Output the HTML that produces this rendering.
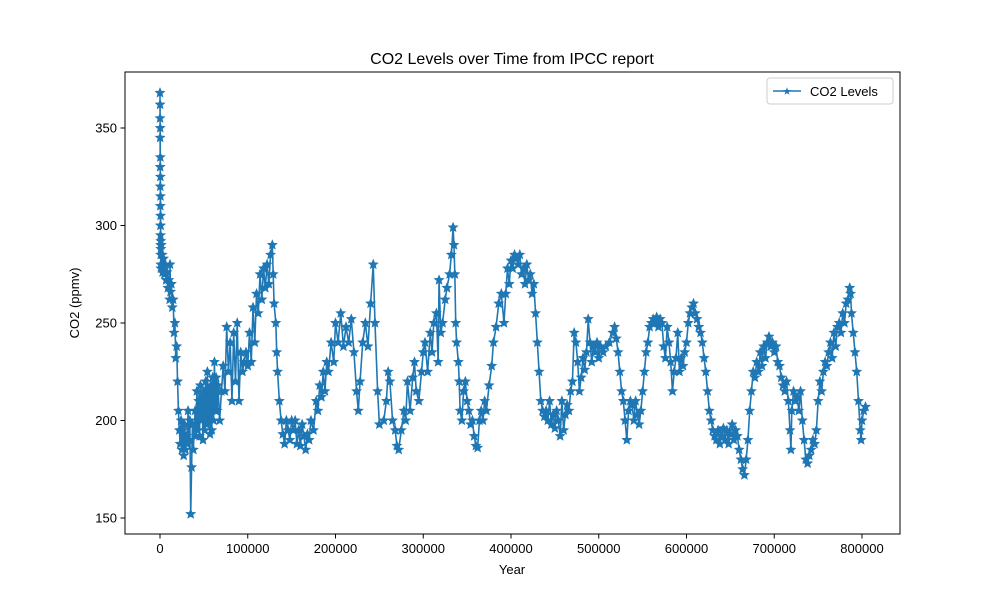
<!DOCTYPE html>
<html><head><meta charset="utf-8"><style>
html,body{margin:0;padding:0;background:#fff;}
svg{display:block;font-family:"Liberation Sans","DejaVu Sans",sans-serif;}
</style></head><body>
<svg id="chart" width="1000" height="600" viewBox="0 0 1000 600">
<rect x="0" y="0" width="1000" height="600" fill="#fff"/>
<text x="512" y="64" text-anchor="middle" font-size="16">CO2 Levels over Time from IPCC report</text>
<g id="plot"></g>
<rect x="125" y="72" width="775" height="462" fill="none" stroke="#000" stroke-width="1"/>
<g id="xticks"></g>
<g id="yticks"></g>
<text x="512" y="574" text-anchor="middle" font-size="13">Year</text>
<text transform="translate(79,303) rotate(-90)" text-anchor="middle" font-size="13">CO2 (ppmv)</text>
<g>
<rect x="767" y="78" width="126" height="26" rx="3" fill="#fff" stroke="#ccc"/>
<line x1="773" y1="91" x2="801" y2="91" stroke="#1f77b4" stroke-width="1.5"/>
<path d="M787,87.2 L788,90 L791,90.1 L788.6,91.9 L789.5,94.8 L787,93.1 L784.5,94.8 L785.4,91.9 L783,90.1 L786,90 Z" fill="#1f77b4"/>
<text x="810" y="96" font-size="13">CO2 Levels</text>
</g>
</svg>
<script>
const yearsKyr=[0,0.05,0.1,0.15,0.2,0.25,0.3,0.35,0.4,0.45,0.5,0.55,0.6,0.65,0.7,0.75,0.8,0.85,0.9,0.95,1,1.5,2,2.5,3,4,5,6,7,8,9,10,11,11.4,12,13,14,15,16,17,18,19,20,21,22,23,24,25,26,27,28,29,30,31,32,33,34,35,36,37,38,40,41,42,43,44,45,46,47,48,49,50,51,52,53,54,55,56,57,58,59,60,61,62,63,64,65,66,68,70,72,74,76,78,80,82,84,86,88,90,92,94,96,98,100,102,104,106,108,110,112,114,116,118,120,122,124,126,128,129,130,132,133,134,136,138,140,142,144,146,148,150,152,154,156,158,160,162,164,166,168,170,172,175,178,180,182,184,186,188,190,192,195,198,200,203,206,209,212,215,218,221,224,226,228,231,234,237,240,243,245,248,250,255,258,260,262,265,268,270,272,275,278,280,282,285,288,290,292,295,298,300,302,305,308,310,312,315,317,318,320,322,325,327,330,332,334,335,336,337,338,340,341,342,344,346,348,350,352,354,356,358,360,362,364,366,368,370,372,375,378,380,383,386,389,392,394,396,398,400,402,404,406,408,410,412,414,416,418,420,422,424,426,428,430,432,434,436,438,440,442,444,446,448,450,452,454,456,458,460,462,464,466,468,470,472,474,476,478,480,482,484,486,488,490,492,494,496,498,500,502,505,508,512,516,518,520,522,524,526,528,530,532,534,536,538,540,542,544,546,548,550,552,554,556,558,560,562,564,566,568,570,572,574,576,578,580,582,584,586,588,590,592,594,596,598,600,602,604,606,608,610,612,614,616,618,620,622,624,626,628,630,632,634,636,638,640,642,644,646,648,650,652,654,656,658,660,662,664,666,668,670,672,674,676,678,680,682,684,686,688,690,692,694,696,698,700,702,704,706,708,710,712,714,716,718,719,720,722,724,726,728,730,732,734,736,738,740,742,744,746,748,750,752,754,756,758,760,762,764,766,768,770,772,774,776,778,780,782,784,786,787,788,790,792,794,796,798,799,800,802,804];
const co2Values=[368,355,362,345,330,350,320,335,310,325,300,315,295,305,290,300,285,292,280,288,278,290,280,285,276,283,275,280,272,276,268,272,262,280,266,270,258,262,245,250,232,238,220,205,195,188,200,185,195,182,198,185,192,188,205,190,200,152,176,198,185,205,192,215,195,210,192,218,200,212,190,215,195,220,198,225,200,215,193,218,195,222,200,230,205,222,205,218,200,215,228,215,248,225,240,210,245,220,250,210,235,225,230,235,228,245,230,258,240,265,255,275,262,278,268,280,270,285,290,275,260,250,235,225,210,200,193,188,200,195,190,200,195,200,188,195,187,198,192,185,193,190,200,195,210,205,218,212,225,215,230,225,240,230,250,240,255,238,248,240,252,235,215,205,220,240,250,238,260,280,250,215,198,200,210,225,220,200,195,187,185,195,205,200,220,205,222,230,215,210,225,235,240,225,245,235,250,255,230,272,245,250,262,268,275,285,299,290,275,250,240,230,220,205,200,215,220,210,205,198,200,192,187,186,200,205,200,210,205,218,228,240,248,260,265,250,265,278,270,282,278,285,283,280,285,275,278,270,280,272,275,265,270,255,240,225,210,205,202,205,200,210,198,203,196,205,200,192,210,195,203,208,205,215,220,245,240,230,215,222,232,226,235,252,240,230,238,235,240,232,238,235,238,240,245,248,242,235,225,215,210,200,190,205,210,208,200,210,203,198,205,215,225,235,240,248,250,252,250,253,248,252,250,238,232,248,240,230,215,225,232,245,225,232,228,235,240,250,255,258,260,255,252,248,245,240,232,225,215,205,200,195,192,190,195,188,192,196,190,195,188,193,198,190,195,192,185,180,175,172,180,190,205,215,225,222,230,225,235,228,238,232,240,243,238,240,235,238,230,228,222,218,215,220,210,195,185,205,215,210,212,205,215,200,190,180,178,182,185,190,188,195,210,220,215,225,230,228,235,240,232,245,238,248,250,245,255,250,260,262,268,265,255,245,235,225,210,195,190,200,205,207];
const xTicks=[0,100000,200000,300000,400000,500000,600000,700000,800000];
const yTicks=[150,200,250,300,350];

const X0=160, XS=(862-160)/800000;
const Y0=128, YS=(518-128)/200;
function xScale(v){return X0+v*XS;}
function yScale(v){return Y0+(350-v)*YS;}
const NS='http://www.w3.org/2000/svg';
const plot=document.getElementById('plot');
let d='';
for(let i=0;i<yearsKyr.length;i++){
  const px=xScale(yearsKyr[i]*1000), py=yScale(co2Values[i]);
  d+=(i?'L':'M')+px.toFixed(2)+','+py.toFixed(2);
}
const line=document.createElementNS(NS,'path');
line.setAttribute('d',d);line.setAttribute('fill','none');line.setAttribute('stroke','#1f77b4');line.setAttribute('stroke-width','1.6');line.setAttribute('stroke-linejoin','round');


plot.appendChild(line);
function star(cx,cy,r){
  let s='';
  for(let k=0;k<10;k++){
    const rr=k%2?r*0.45:r, a=-Math.PI/2+k*Math.PI/5;
    s+=(k?'L':'M')+(cx+rr*Math.cos(a)).toFixed(2)+','+(cy+rr*Math.sin(a)).toFixed(2);
  }
  return s+'Z';
}
let sd='';
for(let i=0;i<yearsKyr.length;i++){sd+=star(xScale(yearsKyr[i]*1000),yScale(co2Values[i]),5);}
const marks=document.createElementNS(NS,'path');
marks.setAttribute('d',sd);marks.setAttribute('fill','#1f77b4');marks.setAttribute('stroke','#1f77b4');marks.setAttribute('stroke-width','0.6');


plot.appendChild(marks);
const xg=document.getElementById('xticks');
xTicks.forEach(t=>{
  const x=xScale(t);
  const l=document.createElementNS(NS,'line');
  l.setAttribute('x1',x);l.setAttribute('x2',x);l.setAttribute('y1',534);l.setAttribute('y2',538.5);l.setAttribute('stroke','#000');
  
  
  xg.appendChild(l);
  const tx=document.createElementNS(NS,'text');
  tx.setAttribute('x',x);tx.setAttribute('y',553);tx.setAttribute('text-anchor','middle');tx.setAttribute('font-size','13');
  tx.textContent=t;
  
  
  xg.appendChild(tx);
});
const yg=document.getElementById('yticks');
yTicks.forEach(t=>{
  const y=yScale(t);
  const l=document.createElementNS(NS,'line');
  l.setAttribute('x1',120.5);l.setAttribute('x2',125);l.setAttribute('y1',y);l.setAttribute('y2',y);l.setAttribute('stroke','#000');
  
  
  yg.appendChild(l);
  const tx=document.createElementNS(NS,'text');
  tx.setAttribute('x',117);tx.setAttribute('y',y+4.5);tx.setAttribute('text-anchor','end');tx.setAttribute('font-size','13');
  tx.textContent=t;
  
  
  yg.appendChild(tx);
});
</script>
</body></html>
